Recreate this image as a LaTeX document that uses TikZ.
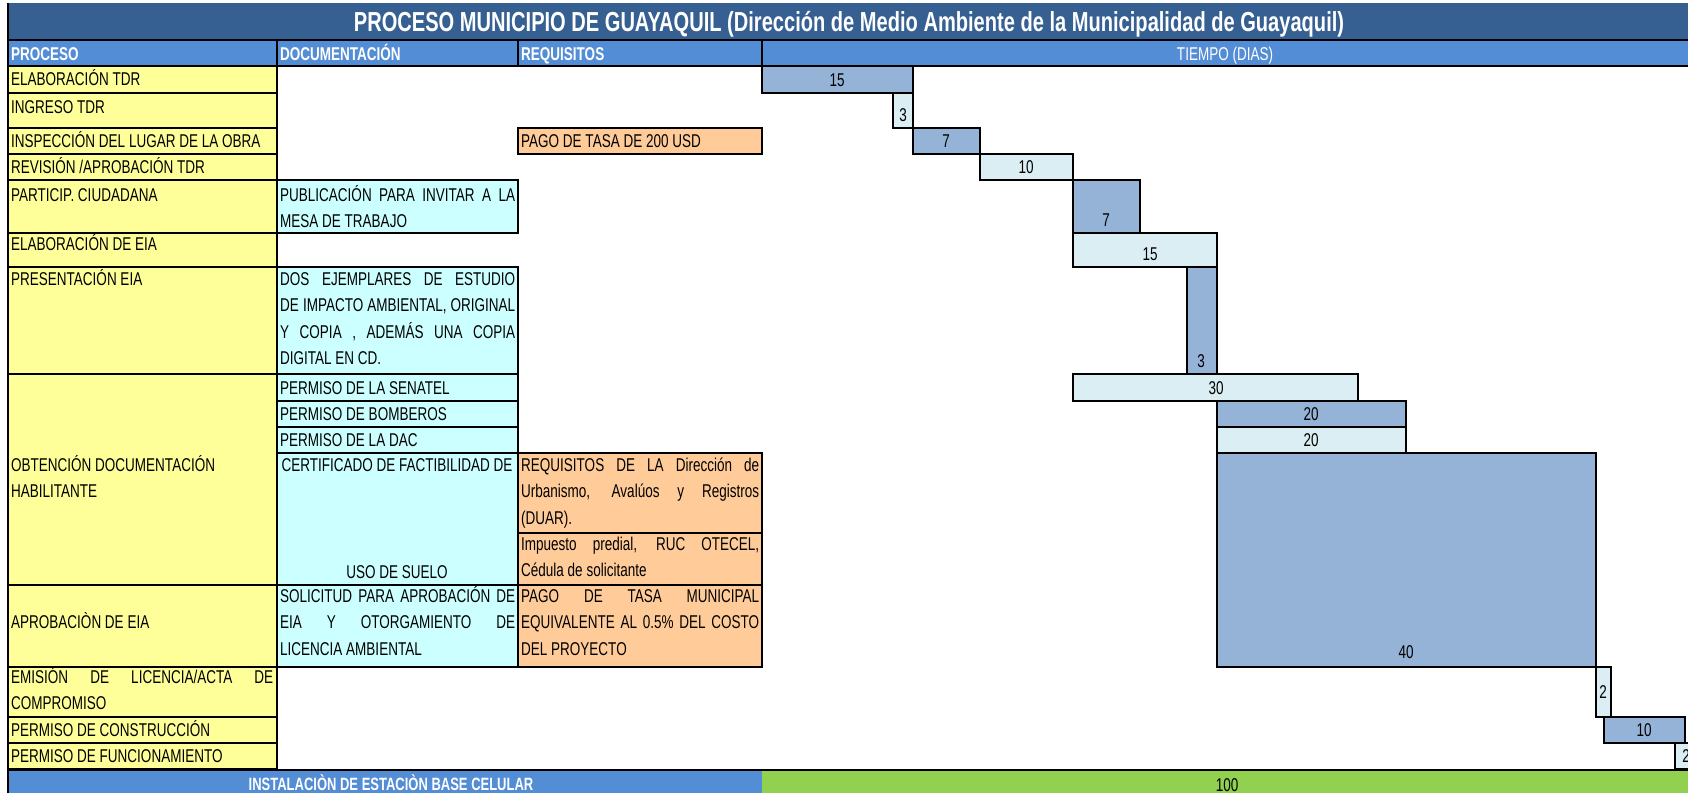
\documentclass[tikz,border=0pt]{standalone}
\usepackage{fontspec}
\setmainfont{Liberation Sans}[FakeStretch=0.73]
\definecolor{titleblue}{HTML}{366092}
\definecolor{headblue}{HTML}{538DD5}
\definecolor{procyellow}{HTML}{FFFF99}
\definecolor{doccyan}{HTML}{CCFFFF}
\definecolor{reqpeach}{HTML}{FFCC99}
\definecolor{bardark}{HTML}{95B3D7}
\definecolor{barlight}{HTML}{DAEEF3}
\definecolor{totalgreen}{HTML}{92D050}
\newcommand{\cellfont}{\fontsize{18.5}{26.5}\selectfont}
\newcommand{\jl}[2]{\makebox[#1][s]{#2}}
\tikzset{
  cell/.style={draw=black,line width=2.6pt},
  proc/.style={cell,fill=procyellow},
  docu/.style={cell,fill=doccyan},
  reqs/.style={cell,fill=reqpeach},
  darkbar/.style={cell,fill=bardark},
  lightbar/.style={cell,fill=barlight},
  gridline/.style={draw=black,line width=2.6pt},
  txt/.style={inner sep=0pt,anchor=base west,font=\cellfont,align=left},
  para/.style={txt,anchor=north west},
  num/.style={inner sep=0pt,anchor=base,font=\cellfont},
  head/.style={inner sep=0pt,anchor=base west,font=\cellfont\bfseries,text=white}
}
\begin{document}
\begin{tikzpicture}[x=1pt,y=-1pt]
  \useasboundingbox (0,0) rectangle (1688,793);
  \clip (0,0) rectangle (1688,793);

  % title and header
  \fill[titleblue] (8,3) rectangle (1688,40);
  \fill[headblue] (8,40) rectangle (1688,66);
  \node[inner sep=0pt,anchor=base,text=white,
        font=\fontsize{27.5}{30}\selectfont\bfseries] (title) at (849,31)
    {PROCESO MUNICIPIO DE GUAYAQUIL (Dirección de Medio Ambiente de la Municipalidad de Guayaquil)};
  \node[head] (hproc) at (11,60) {PROCESO};
  \node[head] (hdoc) at (280,60) {DOCUMENTACIÓN};
  \node[head] (hreq) at (521,60) {REQUISITOS};
  \node[num,text=white] (htime) at (1225,60) {TIEMPO (DIAS)};

  % proceso column
  \foreach \n/\ya/\yb in {1/66/93,2/93/128,3/128/154,4/154/180,5/180/233,
                          6/233/267,7/267/374,8/374/585,9/585/667,
                          10/667/717,11/717/743,12/743/769}{
    \draw[proc] (8,\ya) rectangle (277,\yb);
  }
  \node[txt] (p1) at (11,85) {ELABORACIÓN TDR};
  \node[txt] (p2) at (11,113) {INGRESO TDR};
  \node[txt] (p3) at (11,147) {INSPECCIÓN DEL LUGAR DE LA OBRA};
  \node[txt] (p4) at (11,173) {REVISIÓN /APROBACIÓN TDR};
  \node[txt] (p5) at (11,201) {PARTICIP. CIUDADANA};
  \node[txt] (p6) at (11,250) {ELABORACIÓN DE EIA};
  \node[txt] (p7) at (11,285) {PRESENTACIÓN EIA};
  \node[para] (p8) at (11,452.5) {\strut OBTENCIÓN DOCUMENTACIÓN\\HABILITANTE};
  \node[txt] (p9) at (11,628) {APROBACIÒN DE EIA};
  \node[para] (p10) at (11,664.5)
    {\strut\jl{262pt}{EMISIÓN DE LICENCIA/ACTA DE}\\COMPROMISO};
  \node[txt] (p11) at (11,736) {PERMISO DE CONSTRUCCIÓN};
  \node[txt] (p12) at (11,762) {PERMISO DE FUNCIONAMIENTO};

  % documentacion column
  \draw[docu] (277,180) rectangle (518,233);
  \draw[docu] (277,267) rectangle (518,374);
  \draw[docu] (277,374) rectangle (518,401);
  \draw[docu] (277,401) rectangle (518,427);
  \draw[docu] (277,427) rectangle (518,453);
  \draw[docu] (277,453) rectangle (518,585);
  \draw[docu] (277,585) rectangle (518,667);
  \node[para] (d5) at (280,182.5)
    {\strut\jl{235pt}{PUBLICACIÓN PARA INVITAR A LA}\\MESA DE TRABAJO};
  \node[para] (d7) at (280,266.5)
    {\strut\jl{235pt}{DOS EJEMPLARES DE ESTUDIO}\\
     \jl{235pt}{DE IMPACTO AMBIENTAL, ORIGINAL}\\
     \jl{235pt}{Y COPIA , ADEMÁS UNA COPIA}\\DIGITAL EN CD.};
  \node[txt] (d8a) at (280,394) {PERMISO DE LA SENATEL};
  \node[txt] (d8b) at (280,420) {PERMISO DE BOMBEROS};
  \node[txt] (d8c) at (280,446) {PERMISO DE LA DAC};
  \node[num] (d8d) at (397,471) {CERTIFICADO DE FACTIBILIDAD DE};
  \node[num] (d8e) at (397,578) {USO DE SUELO};
  \node[para] (d9) at (280,583.5)
    {\strut\jl{235pt}{SOLICITUD PARA APROBACIÓN DE}\\
     \jl{235pt}{EIA Y OTORGAMIENTO DE}\\LICENCIA AMBIENTAL};

  % requisitos column
  \draw[reqs] (518,128) rectangle (762,154);
  \draw[reqs] (518,453) rectangle (762,533);
  \draw[reqs] (518,533) rectangle (762,585);
  \draw[reqs] (518,585) rectangle (762,667);
  \node[txt] (r3) at (521,147) {PAGO DE TASA DE 200 USD};
  \node[para] (r8a) at (521,452.5)
    {\strut\jl{238pt}{REQUISITOS DE LA Dirección de}\\
     \jl{238pt}{Urbanismo, Avalúos y Registros}\\(DUAR).};
  \node[para] (r8b) at (521,531.5)
    {\strut\jl{238pt}{Impuesto predial, RUC OTECEL,}\\Cédula de solicitante};
  \node[para] (r9) at (521,583.5)
    {\strut\jl{238pt}{PAGO DE TASA MUNICIPAL}\\
     \jl{238pt}{EQUIVALENTE AL 0.5\% DEL COSTO}\\DEL PROYECTO};

  % gantt bars
  \foreach \n/\xa/\ya/\xb/\yb/\sty/\lx/\ly/\val in {
      1/762/66/913/93/darkbar/837/86/15,
      2/893/93/913/128/lightbar/903/121/3,
      3/913/128/980/154/darkbar/946/147/7,
      4/980/154/1073/180/lightbar/1026/173/10,
      5/1073/180/1140/233/darkbar/1106/226/7,
      6/1073/233/1217/267/lightbar/1150/260/15,
      7/1187/267/1217/374/darkbar/1201/367/3,
      8/1073/374/1358/401/lightbar/1216/394/30,
      9/1217/401/1406/427/darkbar/1311/420/20,
      10/1217/427/1406/453/lightbar/1311/446/20,
      11/1217/453/1596/667/darkbar/1406/658/40,
      12/1596/667/1611/717/lightbar/1603/698/2,
      13/1604/717/1685/743/darkbar/1644/736/10,
      14/1675/743/1700/769/lightbar/1686/762/2}{
    \draw[\sty] (\xa,\ya) rectangle (\xb,\yb);
    \node[num] (bar\n) at (\lx,\ly) {\val};
  }

  % total row
  \fill[headblue] (8,770) rectangle (762,793);
  \fill[totalgreen] (762,770) rectangle (1688,793);
  \node[num,text=white,font=\fontsize{17.8}{20}\selectfont\bfseries] (total)
    at (391,790) {INSTALACIÒN DE ESTACIÒN BASE CELULAR};
  \node[num] (days) at (1227,791) {100};

  % grid lines
  \draw[gridline] (8,3) -- (8,793);
  \draw[gridline] (8,40) -- (1688,40);
  \draw[gridline] (8,66) -- (1688,66);
  \draw[gridline] (8,770) -- (1688,770);
  \foreach \xx in {277,518,762}{
    \draw[gridline] (\xx,40) -- (\xx,66);
  }
\end{tikzpicture}
\end{document}
